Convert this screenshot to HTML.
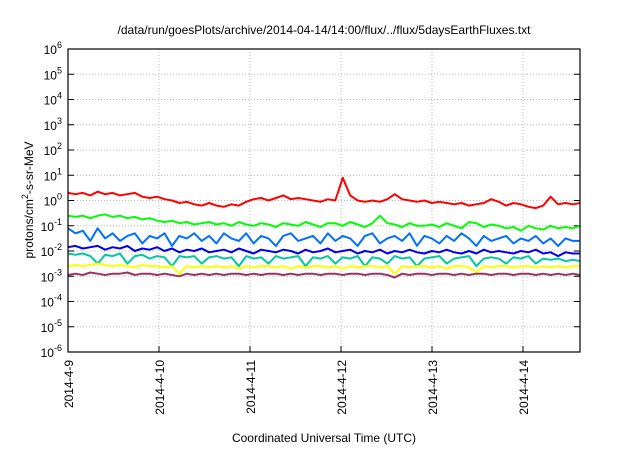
<!DOCTYPE html>
<html><head><meta charset="utf-8"><style>
body{margin:0;background:#fff;font-family:"Liberation Sans",sans-serif}
svg text{font-family:"Liberation Sans",sans-serif;fill:#000}
</style></head><body>
<svg id="c" width="640" height="448" xmlns="http://www.w3.org/2000/svg"></svg>
<script>
const xTickLabels=["2014-4-9","2014-4-10","2014-4-11","2014-4-12","2014-4-13","2014-4-14"];
const yExponents=[-6,-5,-4,-3,-2,-1,0,1,2,3,4,5,6];
const seriesColors=["#ff0000","#00ff00","#0070ff","#0000ee","#00c8a0","#ffff00","#993366"];
const seriesNames=["p1","p2","p3","p4","p5","p6","p7"];
// log10 values, evenly spaced over 5.63 days
const sRed=[0.3,0.25,0.3,0.2,0.35,0.25,0.3,0.2,0.25,0.3,0.15,0.1,0.15,0.05,0.0,-0.1,-0.05,-0.15,-0.2,-0.1,-0.2,-0.25,-0.15,-0.2,-0.05,0.05,0.1,0.0,0.1,0.2,0.05,0.1,0.05,0.0,-0.05,0.05,0.0,0.9,0.2,0.0,-0.05,0.0,-0.05,0.05,0.25,0.05,0.0,-0.05,0.0,-0.1,-0.05,-0.1,-0.15,-0.1,-0.2,-0.15,-0.1,0.05,-0.05,-0.2,-0.1,-0.15,-0.25,-0.3,-0.2,0.15,-0.15,-0.1,-0.15,-0.1];
const sGreen=[-0.6,-0.65,-0.6,-0.7,-0.6,-0.55,-0.65,-0.6,-0.7,-0.65,-0.75,-0.7,-0.8,-0.85,-0.8,-0.9,-0.85,-0.95,-0.9,-0.85,-0.95,-0.9,-1.0,-0.85,-0.95,-1.0,-0.9,-0.95,-1.05,-0.9,-0.95,-1.0,-0.85,-0.95,-1.05,-0.9,-0.9,-1.0,-0.85,-0.95,-1.05,-0.9,-0.6,-0.9,-0.95,-1.05,-0.9,-1.0,-1.0,-0.95,-1.05,-0.9,-1.0,-1.1,-0.85,-0.9,-1.05,-0.95,-1.0,-1.1,-1.05,-1.2,-1.0,-1.1,-1.15,-1.0,-1.1,-1.05,-1.1,-1.0];
const sLBlue=[-1.1,-1.3,-1.2,-1.6,-1.1,-1.5,-1.3,-1.6,-1.4,-1.3,-1.7,-1.4,-1.5,-1.3,-1.8,-1.4,-1.5,-1.3,-1.6,-1.4,-1.7,-1.3,-1.5,-1.6,-1.3,-1.7,-1.4,-1.5,-1.8,-1.4,-1.3,-1.6,-1.5,-1.4,-1.7,-1.3,-1.6,-1.4,-1.5,-1.8,-1.4,-1.3,-1.7,-1.5,-1.4,-1.6,-1.3,-1.8,-1.4,-1.5,-1.7,-1.4,-1.6,-1.3,-1.5,-1.8,-1.4,-1.6,-1.5,-1.4,-1.7,-1.5,-1.6,-1.4,-1.7,-1.5,-1.8,-1.5,-1.6,-1.6];
const sBlue=[-1.85,-1.8,-1.9,-1.85,-1.8,-1.95,-1.85,-1.9,-1.8,-2.0,-1.9,-1.95,-1.85,-2.0,-1.9,-2.05,-1.95,-2.0,-1.9,-2.05,-2.0,-1.95,-2.05,-1.9,-2.0,-2.1,-1.95,-2.0,-2.05,-1.95,-2.0,-2.1,-1.95,-2.05,-2.0,-1.9,-2.05,-2.0,-1.95,-2.1,-2.0,-2.05,-1.95,-2.1,-2.0,-2.05,-1.95,-2.05,-2.1,-2.0,-2.05,-1.95,-2.05,-2.1,-2.0,-2.1,-1.95,-2.05,-2.0,-2.05,-2.1,-2.0,-2.05,-1.95,-2.1,-2.05,-2.2,-2.05,-2.1,-2.1];
const sTeal=[-2.1,-2.15,-2.1,-2.2,-2.5,-2.15,-2.2,-2.1,-2.5,-2.2,-2.15,-2.3,-2.2,-2.25,-2.6,-2.2,-2.25,-2.2,-2.5,-2.25,-2.2,-2.3,-2.25,-2.6,-2.2,-2.3,-2.25,-2.5,-2.2,-2.3,-2.25,-2.2,-2.6,-2.25,-2.3,-2.2,-2.5,-2.25,-2.3,-2.2,-2.6,-2.25,-2.3,-2.5,-2.2,-2.3,-2.25,-2.6,-2.3,-2.25,-2.2,-2.5,-2.3,-2.25,-2.2,-2.6,-2.3,-2.25,-2.3,-2.5,-2.25,-2.3,-2.2,-2.5,-2.3,-2.35,-2.3,-2.4,-2.35,-2.4];
const sYellow=[-2.6,-2.55,-2.6,-2.55,-2.5,-2.55,-2.6,-2.55,-2.6,-2.65,-2.55,-2.6,-2.6,-2.65,-2.6,-2.9,-2.6,-2.65,-2.6,-2.65,-2.6,-2.65,-2.6,-2.7,-2.6,-2.65,-2.6,-2.6,-2.65,-2.6,-2.7,-2.6,-2.65,-2.6,-2.6,-2.65,-2.6,-2.7,-2.6,-2.65,-2.6,-2.6,-2.65,-2.6,-2.9,-2.6,-2.65,-2.6,-2.6,-2.65,-2.6,-2.7,-2.6,-2.6,-2.65,-2.85,-2.6,-2.65,-2.6,-2.6,-2.65,-2.6,-2.6,-2.65,-2.6,-2.65,-2.6,-2.65,-2.6,-2.6];
const sPurple=[-2.95,-2.9,-2.95,-2.85,-2.9,-2.95,-2.9,-2.9,-2.85,-2.95,-2.9,-2.9,-2.95,-2.9,-2.95,-3.0,-2.9,-2.95,-2.9,-2.95,-2.9,-2.95,-2.9,-2.9,-2.95,-2.9,-2.95,-2.9,-2.9,-2.95,-2.9,-2.95,-2.9,-2.9,-2.95,-2.9,-2.9,-2.95,-2.9,-2.9,-2.95,-2.9,-2.9,-2.95,-3.05,-2.9,-2.95,-2.9,-2.9,-2.95,-2.9,-2.9,-2.95,-2.9,-2.95,-2.9,-2.9,-2.95,-2.9,-2.9,-2.95,-2.9,-2.9,-2.95,-2.9,-2.95,-2.9,-2.95,-2.9,-2.95];
const allSeries=[sRed,sGreen,sLBlue,sBlue,sTeal,sYellow,sPurple];
const totalDays=5.63;

const L=68,R=580,T=49,B=352,dayPx=91;
const xs=d=>L+d*dayPx;
const ys=e=>B-(e+6)*(B-T)/12;
const svg=document.getElementById('c');const NS="http://www.w3.org/2000/svg";
function mk(t,a,p){const e=document.createElementNS(NS,t);for(const k in a)e.setAttribute(k,a[k]);(p||svg).appendChild(e);return e;}

yExponents.forEach(e=>{if(e>-6&&e<6){const g=mk('line',{x1:L,x2:R,y1:ys(e),y2:ys(e),stroke:'#bbb','stroke-dasharray':'1,2','stroke-width':1});

}
const tk=mk('line',{x1:L,x2:L+6,y1:ys(e),y2:ys(e),stroke:'#000'});


const tk2=mk('line',{x1:R-6,x2:R,y1:ys(e),y2:ys(e),stroke:'#000'});


const t=mk('text',{x:L-6,y:ys(e)+5,'text-anchor':'end','font-size':12});


t.innerHTML='10<tspan dy="-6" font-size="9">'+e+'</tspan>';});
xTickLabels.forEach((lab,i)=>{const x=xs(i);
if(i>0){const g=mk('line',{x1:x,x2:x,y1:T,y2:B,stroke:'#bbb','stroke-dasharray':'1,2'});


const tk=mk('line',{x1:x,x2:x,y1:B-6,y2:B,stroke:'#000'});

}
const t=mk('text',{x:x+5,y:B+8,'text-anchor':'end','font-size':12,transform:`rotate(-90 ${x+5} ${B+8})`});


t.textContent=lab;});

allSeries.forEach((s,i)=>{const n=s.length;const pts=s.map((v,j)=>xs(j*totalDays/(n-1)).toFixed(1)+','+ys(v).toFixed(1)).join(' ');
const p=mk('polyline',{points:pts,fill:'none',stroke:seriesColors[i],'stroke-width':2,'stroke-linejoin':'round'});

});

const fr=mk('rect',{x:L,y:T,width:R-L,height:B-T,fill:'none',stroke:'#000','stroke-width':1.2});


const tt=mk('text',{x:324,y:34,'text-anchor':'middle','font-size':12});


tt.textContent='/data/run/goesPlots/archive/2014-04-14/14:00/flux/../flux/5daysEarthFluxes.txt';
const xt=mk('text',{x:324,y:442,'text-anchor':'middle','font-size':12});


xt.textContent='Coordinated Universal Time (UTC)';
const yt=mk('text',{x:0,y:0,'text-anchor':'middle','font-size':12,transform:'translate(33 200) rotate(-90)'});


yt.innerHTML='protons/cm<tspan dy="-5" font-size="9">2</tspan><tspan dy="5">-s-sr-MeV</tspan>';
</script>
</body></html>
